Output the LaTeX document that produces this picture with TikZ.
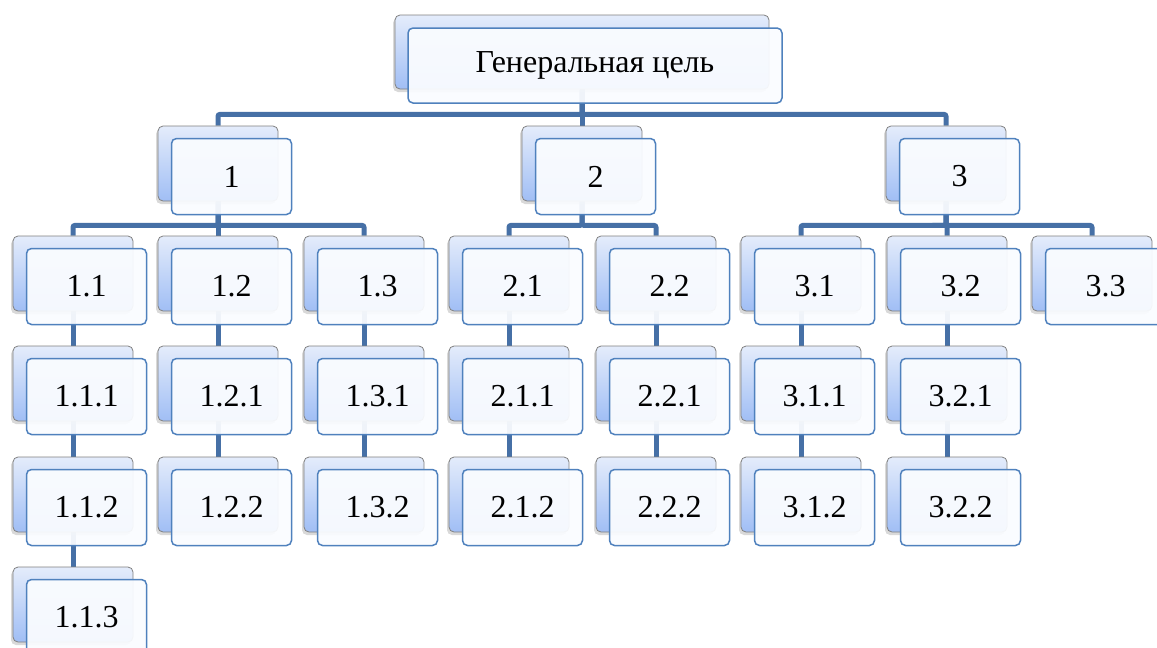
\documentclass[tikz,border=0pt]{standalone}
\usepackage{fontspec}
\setmainfont{Liberation Serif}
\usetikzlibrary{shadows}
\pgfdeclarelayer{bgl}
\pgfsetlayers{bgl,main}
\definecolor{linkc}{RGB}{70,112,166}
\definecolor{bkTop}{RGB}{228,236,251}
\definecolor{bkBot}{RGB}{160,190,245}
\definecolor{frBorder}{RGB}{79,129,189}
\definecolor{frFill}{RGB}{250,252,255}
\newcommand\cell[4]{%
  \node[backbox] (b#1) at (#2+60,#3+37.5) {};
  \node[frontbox] (f#1) at (#2+73.5,#3+50.5) {#4};
}
\begin{document}
\begin{tikzpicture}[x=1pt,y=-1pt,
  backbox/.style={draw=black!50, line width=0.8pt, rounded corners=5pt,
    minimum width=120pt, minimum height=75pt, inner sep=0pt,
    top color=bkTop, bottom color=bkBot,
    drop shadow={shadow xshift=-2pt,shadow yshift=-3pt,opacity=0.3}},
  frontbox/.style={draw=frBorder, line width=1.5pt, rounded corners=5pt,
    minimum width=120pt, minimum height=76pt, inner sep=0pt,
    fill=frFill, fill opacity=0.94, text opacity=1,
    font=\fontsize{32}{38}\selectfont},
  link/.style={draw=linkc, line width=5pt, rounded corners=2pt}]
\useasboundingbox (0,0) rectangle (1157,648);
\clip (0,0) rectangle (1157,648);
% top
\node[backbox, minimum width=374pt, minimum height=74pt] (bg) at (582,52) {};
\node[frontbox, minimum width=374pt, minimum height=75pt] (fg) at (595,65.5) {Генеральная цель};
% level 1
\cell{1}{158}{126}{1}
\cell{2}{522}{126}{2}
\cell{3}{886}{126}{3}
% level 2
\cell{11}{13}{236}{1.1}
\cell{12}{158}{236}{1.2}
\cell{13}{304}{236}{1.3}
\cell{21}{449}{236}{2.1}
\cell{22}{596}{236}{2.2}
\cell{31}{741}{236}{3.1}
\cell{32}{887}{236}{3.2}
\cell{33}{1032}{236}{3.3}
% level 3
\cell{111}{13}{346}{1.1.1}
\cell{121}{158}{346}{1.2.1}
\cell{131}{304}{346}{1.3.1}
\cell{211}{449}{346}{2.1.1}
\cell{221}{596}{346}{2.2.1}
\cell{311}{741}{346}{3.1.1}
\cell{321}{887}{346}{3.2.1}
% level 4
\cell{112}{13}{457}{1.1.2}
\cell{122}{158}{457}{1.2.2}
\cell{132}{304}{457}{1.3.2}
\cell{212}{449}{457}{2.1.2}
\cell{222}{596}{457}{2.2.2}
\cell{312}{741}{457}{3.1.2}
\cell{322}{887}{457}{3.2.2}
% level 5
\cell{113}{13}{567}{1.1.3}
\begin{pgfonlayer}{bgl}
\draw[link] (bg.south) -- ++(0,25) -| (b1.north);
\draw[link] (bg.south) -- ++(0,25) -| (b2.north);
\draw[link] (bg.south) -- ++(0,25) -| (b3.north);
\draw[link] (b1.south) -- ++(0,24) -| (b11.north);
\draw[link] (b1.south) -- ++(0,24) -| (b12.north);
\draw[link] (b1.south) -- ++(0,24) -| (b13.north);
\draw[link] (b2.south) -- ++(0,24) -| (b21.north);
\draw[link] (b2.south) -- ++(0,24) -| (b22.north);
\draw[link] (b3.south) -- ++(0,24) -| (b31.north);
\draw[link] (b3.south) -- ++(0,24) -| (b32.north);
\draw[link] (b3.south) -- ++(0,24) -| (b33.north);
\draw[link] (b11.south) -- (b111.north);
\draw[link] (b111.south) -- (b112.north);
\draw[link] (b112.south) -- (b113.north);
\draw[link] (b12.south) -- (b121.north);
\draw[link] (b121.south) -- (b122.north);
\draw[link] (b13.south) -- (b131.north);
\draw[link] (b131.south) -- (b132.north);
\draw[link] (b21.south) -- (b211.north);
\draw[link] (b211.south) -- (b212.north);
\draw[link] (b22.south) -- (b221.north);
\draw[link] (b221.south) -- (b222.north);
\draw[link] (b31.south) -- (b311.north);
\draw[link] (b311.south) -- (b312.north);
\draw[link] (b32.south) -- (b321.north);
\draw[link] (b321.south) -- (b322.north);
\end{pgfonlayer}
\end{tikzpicture}
\end{document}
